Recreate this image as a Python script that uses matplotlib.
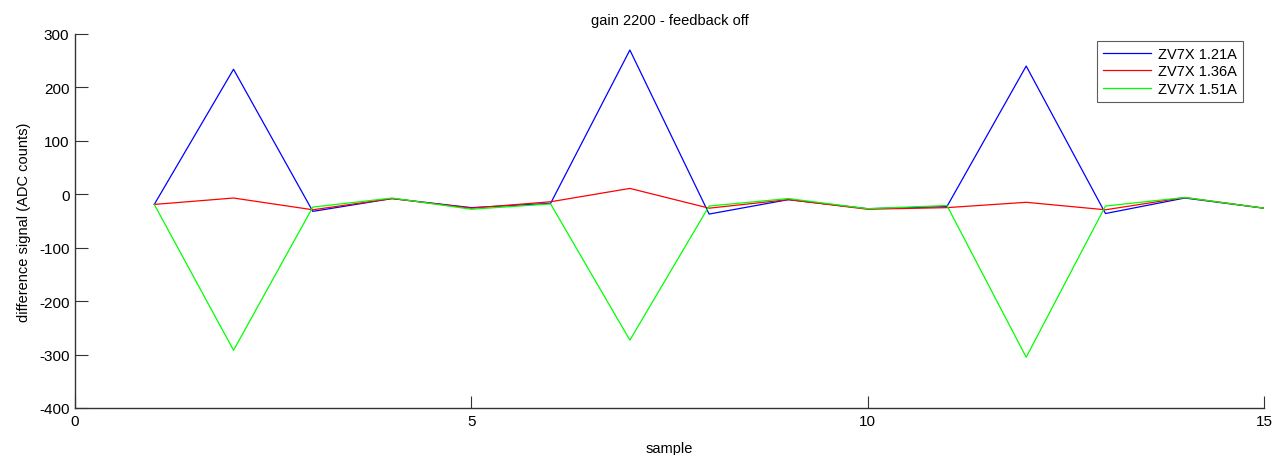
import matplotlib
matplotlib.use("Agg")
import matplotlib.pyplot as plt

plt.rcParams['font.family'] = ['Liberation Sans', 'DejaVu Sans']
plt.rcParams['axes.unicode_minus'] = False

samples = list(range(1, 16))
labels = ["ZV7X 1.21A", "ZV7X 1.36A", "ZV7X 1.51A"]
blue_121 = [-19, 234, -32, -8, -25, -17, 270, -37, -10, -27, -23, 240, -36, -7, -26]
red_136 = [-19, -7, -29, -8, -26, -14, 11, -26, -10, -28, -25, -15, -29, -6, -26]
green_151 = [-19, -292, -24, -7, -28, -18, -273, -22, -8, -27, -21, -305, -22, -6, -26]
series = [blue_121, red_136, green_151]
colors = ["#0000ff", "#ff0000", "#00ff00"]

xticks = [0, 5, 10, 15]
yticks = [-400, -300, -200, -100, 0, 100, 200, 300]

fig = plt.figure(figsize=(12.76, 4.56), dpi=100)
ax = fig.add_axes([75/1276, 1 - 409/456, (1264-75)/1276, (409-35)/456])

for vals, c, lab in zip(series, colors, labels):
    ax.plot(samples, vals, color=c, lw=0.9, label=lab)

ax.set_xlim(0, 15)
ax.set_ylim(-400, 300)
ax.set_xticks(xticks)
ax.set_yticks(yticks)
ax.tick_params(direction='in', length=9, width=0.8, labelsize=11, colors='#333333', labelcolor='black')
ax.tick_params(axis='x', pad=4)
ax.tick_params(axis='y', pad=4)
for s in ['top', 'right']:
    ax.spines[s].set_visible(False)
for s in ['left', 'bottom']:
    ax.spines[s].set_color('#333333')
    ax.spines[s].set_linewidth(1.0)

ax.set_title("gain 2200 - feedback off", fontsize=10.5, pad=7)
ax.set_xlabel("sample", fontsize=10.5, labelpad=10)
ax.set_ylabel("difference signal (ADC counts)", fontsize=10.5, labelpad=6)

leg = ax.legend(loc='upper right', bbox_to_anchor=(1243/1276, 1 - 42/456),
                bbox_transform=fig.transFigure, fontsize=10.5, frameon=True,
                fancybox=False, edgecolor='#333333', handlelength=3.3,
                handletextpad=0.5, borderpad=0.4, labelspacing=0.25, borderaxespad=0)
leg.get_frame().set_linewidth(0.8)

fig.savefig("out.png", dpi=100)
